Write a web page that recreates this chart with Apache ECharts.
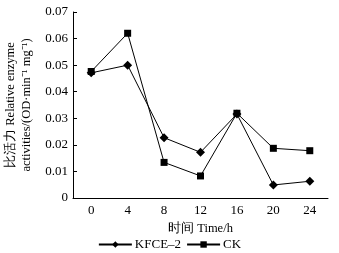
<!DOCTYPE html>
<html><head><meta charset="utf-8">
<script src="https://cdn.jsdelivr.net/npm/echarts@6/dist/echarts.min.js"></script>
<style>html,body{margin:0;padding:0;background:#fff}#c{width:339px;height:253px}</style>
</head><body><div id="c"></div>
<script>
const categories = ['0','4','8','12','16','20','24'];
const kfce = [0.0471, 0.0500, 0.0227, 0.0172, 0.0316, 0.0049, 0.0063];
const ck = [0.0476, 0.0620, 0.0134, 0.0083, 0.0319, 0.0187, 0.0178];
const seriesNames = ['KFCE\u20132', 'CK'];
const font = 'Liberation Serif';
const chart = echarts.init(document.getElementById('c'), null, {renderer:'canvas'});
chart.setOption({
  animation:false,
  backgroundColor:'#fff',
  textStyle:{fontFamily:font,color:'#000'},
  grid:{left:73,right:11,top:12,bottom:55,containLabel:false,outerBoundsMode:'none'},
  legend:{
    top:233,left:'center',itemWidth:33,itemHeight:8,itemGap:5,
    textStyle:{fontFamily:font,fontSize:13,color:'#000',padding:[0,0,0,-2]},
    data:seriesNames
  },
  xAxis:{
    type:'category',data:categories,boundaryGap:true,
    name:'时间 Time/h',nameLocation:'middle',nameGap:19,
    nameTextStyle:{fontFamily:font,fontSize:12.5,color:'#000'},
    axisLine:{lineStyle:{color:'#000',width:1}},
    axisTick:{inside:true,length:4,lineStyle:{color:'#000'}},
    axisLabel:{fontFamily:font,fontSize:13,color:'#000',margin:6},
    splitLine:{show:false}
  },
  yAxis:{
    type:'value',min:0,max:0.07,interval:0.01,
    name:'比活力 Relative enzyme\nactivities/(OD·min\u207B\u00B9 mg\u207B\u00B9)',
    nameLocation:'middle',nameGap:33,
    nameTextStyle:{fontFamily:font,fontSize:12.5,color:'#000',lineHeight:16},
    axisLine:{show:true,lineStyle:{color:'#000',width:1}},
    axisTick:{show:true,inside:true,length:4,lineStyle:{color:'#000'}},
    axisLabel:{fontFamily:font,fontSize:13,color:'#000',margin:5},
    splitLine:{show:false}
  },
  series:[
    {name:seriesNames[0],type:'line',data:kfce,symbol:'diamond',symbolSize:9,
     lineStyle:{color:'#000',width:1},itemStyle:{color:'#000'}},
    {name:seriesNames[1],type:'line',data:ck,symbol:'rect',symbolSize:7,
     lineStyle:{color:'#000',width:1},itemStyle:{color:'#000'}}
  ]
});
</script></body></html>
